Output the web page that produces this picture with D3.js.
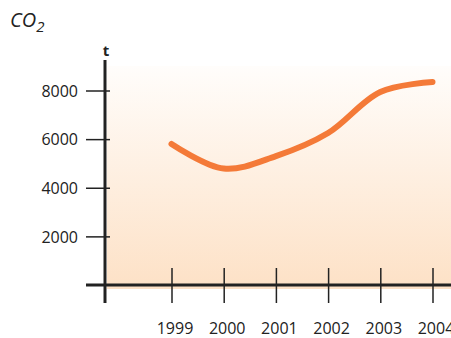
<!DOCTYPE html>
<html>
<head>
<meta charset="utf-8">
<script src="https://cdn.jsdelivr.net/npm/d3@7"></script>
<style>
  html, body { margin: 0; padding: 0; background: #fff; }
  svg { display: block; }
  text { font-family: "Open Sans", "Noto Sans", sans-serif; fill: #222; }
</style>
</head>
<body>
<svg id="chart" width="451" height="338"></svg>
<script>
// CO2 emissions in tonnes per year
const years = [1999, 2000, 2001, 2002, 2003, 2004];
const emissions = [5800, 4790, 5300, 6250, 7940, 8350];
const yTicks = [2000, 4000, 6000, 8000];
const yearLabels = ["1999", "2000", "2001", "2002", "2003", "2004"];

const svg = d3.select("#chart");

const x = d3.scaleLinear().domain([1999, 2004]).range([171.5, 432.5]);
const y = d3.scaleLinear().domain([0, 8000]).range([285, 90.5]);

// soft vertical gradient behind the plot
const defs = svg.append("defs");
const grad = defs.append("linearGradient")
  .attr("id", "bg").attr("x1", 0).attr("y1", 0).attr("x2", 0).attr("y2", 1);
grad.append("stop").attr("offset", "0%").attr("stop-color", "#fffdfb");
grad.append("stop").attr("offset", "100%").attr("stop-color", "#fde1c6");

svg.append("rect")
  .attr("x", 107).attr("y", 66)
  .attr("width", 451 - 107).attr("height", 289 - 66)
  .attr("fill", "url(#bg)");

// y axis ticks and labels
const yAxis = d3.axisLeft(y).tickValues(yTicks).tickSize(0).tickPadding(0);
const gy = svg.append("g").call(yAxis);
gy.select(".domain").remove();
gy.selectAll(".tick text").remove();
gy.selectAll(".tick").append("line")
  .attr("x1", 86).attr("x2", 110)
  .attr("stroke", "#222").attr("stroke-width", 1.5);
gy.selectAll(".tick").append("text")
  .attr("x", 78).attr("dy", "0.36em")
  .attr("text-anchor", "end")
  .style("font-size", "16px")
  .style("fill", "#222")
  .text(d => d);

// x axis ticks and labels
const xAxis = d3.axisBottom(x).tickValues(years).tickSize(0);
const gx = svg.append("g").call(xAxis);
gx.select(".domain").remove();
gx.selectAll(".tick text").remove();
gx.selectAll(".tick").append("line")
  .attr("y1", 268).attr("y2", 303)
  .attr("stroke", "#222").attr("stroke-width", 1.5);
gx.selectAll(".tick").append("text")
  .attr("x", 3).attr("y", 334)
  .attr("text-anchor", "middle")
  .style("font-size", "16px")
  .style("fill", "#222")
  .text((d, i) => yearLabels[i]);

// main axis lines
svg.append("line")
  .attr("x1", 86).attr("x2", 451).attr("y1", y(0)).attr("y2", y(0))
  .attr("stroke", "#222").attr("stroke-width", 3);
svg.append("line")
  .attr("x1", 105).attr("x2", 105).attr("y1", 60).attr("y2", 303)
  .attr("stroke", "#222").attr("stroke-width", 3);

// emissions curve
const line = d3.line()
  .x((d, i) => x(years[i]))
  .y(d => y(d))
  .curve(d3.curveCatmullRom.alpha(0.5));

svg.append("path")
  .datum(emissions)
  .attr("d", line)
  .attr("fill", "none")
  .attr("stroke", "#f47a38")
  .attr("stroke-width", 6)
  .attr("stroke-linecap", "round");

// titles
const co2 = svg.append("text")
  .attr("x", 10).attr("y", 27)
  .style("font-size", "20px")
  .style("font-style", "italic");
co2.append("tspan").text("CO");
co2.append("tspan").attr("dy", 5).style("font-size", "15px").text("2");

svg.append("text")
  .attr("x", 106).attr("y", 56)
  .attr("text-anchor", "middle")
  .style("font-size", "15px")
  .style("font-weight", "bold")
  .text("t");
</script>
</body>
</html>
